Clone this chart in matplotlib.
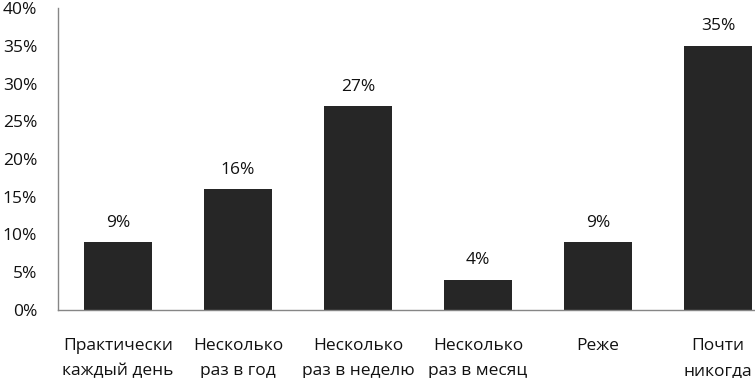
import matplotlib.pyplot as plt

plt.rcParams['font.family'] = ['Open Sans', 'DejaVu Sans']

categories = ["Практически\nкаждый день", "Несколько\nраз в год", "Несколько\nраз в неделю",
              "Несколько\nраз в месяц", "Реже", "Почти\nникогда"]
values = [9, 16, 27, 4, 9, 35]
yticks = [0, 5, 10, 15, 20, 25, 30, 35, 40]

fig = plt.figure(figsize=(7.55, 3.78), dpi=100)
ax = fig.add_axes([58 / 755, 68 / 378, 720 / 755, 302 / 378])

x = list(range(len(categories)))
ax.bar(x, values, width=0.567, color="#262626")
for xi, v in zip(x, values):
    ax.text(xi, v + 1.5, f"{v}%", ha="center", va="bottom", fontsize=12.5, color="#111111")

ax.set_xlim(-0.5, 5.5)
ax.set_ylim(0, 40)
ax.set_yticks(yticks)
ax.set_yticklabels([f"{t}%" for t in yticks])
ax.set_xticks(x)
ax.set_xticklabels(categories, linespacing=1.75)
ax.tick_params(axis="both", length=0, labelsize=12.5, colors="#111111")
ax.tick_params(axis="y", pad=15)
ax.tick_params(axis="x", pad=20.5)

for side in ["top", "right"]:
    ax.spines[side].set_visible(False)
for side in ["left", "bottom"]:
    ax.spines[side].set_color("#868686")
    ax.spines[side].set_linewidth(1.0)

fig.savefig("out.png", dpi=100)
